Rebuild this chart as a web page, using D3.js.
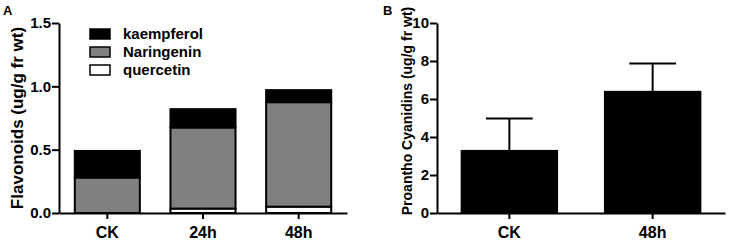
<!DOCTYPE html>
<html>
<head>
<meta charset="utf-8">
<script src="https://d3js.org/d3.v7.min.js"></script>
<style>
  body { margin: 0; background: #fff; }
  svg text { font-family: "Liberation Sans", Arial, sans-serif; font-weight: bold; fill: #000; }
  .axis path, .axis line { stroke: #000; stroke-width: 2; }
</style>
</head>
<body>
<svg id="chart" width="731" height="241"></svg>
<script>
// panel A : stacked flavonoids
let catsA = ["CK", "24h", "48h"];
let quercetin = [0, 0.035, 0.05];
let naringenin = [0.28, 0.64, 0.825];
let kaempferol = [0.21, 0.145, 0.095];
let ticksA = [0, 0.5, 1.0, 1.5];

// panel B : proanthocyanidins, mean + SD
let catsB = ["CK", "48h"];
let proMean = [3.32, 6.43];
let proErr = [1.66, 1.44];
let ticksB = [0, 2, 4, 6, 8, 10];

let legendKeys = ["kaempferol", "Naringenin", "quercetin"];
let colA = { quercetin: "#ffffff", Naringenin: "#808080", kaempferol: "#000000" };

let svg = d3.select("#chart");
let yTop = 23, yBot = 213;

// ---------- A ----------
let gA = svg.append("g");

let xA = d3.scaleBand().domain(catsA).range([59, 347])
    .paddingInner(0.32).paddingOuter(0.165);
let yA = d3.scaleLinear().domain([0, 1.5]).range([yBot, yTop]);

let tableA = catsA.map((c, i) => ({ cat: c, quercetin: quercetin[i],
                                    Naringenin: naringenin[i], kaempferol: kaempferol[i] }));
let stackA = d3.stack().keys(["quercetin", "Naringenin", "kaempferol"])(tableA);

stackA.forEach(layer => {
    gA.append("g").selectAll("rect")
        .data(layer)
        .join("rect")
        .attr("x", d => xA(d.data.cat))
        .attr("y", d => yA(d[1]))
        .attr("width", xA.bandwidth())
        .attr("height", d => yA(d[0]) - yA(d[1]))
        .attr("fill", colA[layer.key])
        .attr("stroke", "#000")
        .attr("stroke-width", d => (d[1] - d[0]) > 0 ? 2 : 0);
});

gA.append("g").attr("class", "axis")
    .attr("transform", "translate(59,0)")
    .call(d3.axisLeft(yA).tickValues(ticksA).tickFormat(d3.format(".1f")).tickSize(7).tickSizeOuter(0))
    .selectAll("text").style("font-size", "15px").attr("x", -8);

gA.append("g").attr("class", "axis")
    .attr("transform", "translate(0," + yBot + ")")
    .call(d3.axisBottom(xA).tickSize(6).tickSizeOuter(0))
    .selectAll("text").style("font-size", "16px").attr("dy", "1.0em");

gA.append("text")
    .attr("transform", "translate(23,118) rotate(-90)")
    .attr("text-anchor", "middle")
    .style("font-size", "17px")
    .text("Flavonoids (ug/g fr wt)");

gA.append("text").attr("x", 3).attr("y", 15).style("font-size", "13px").text("A");

let leg = gA.append("g").selectAll("g")
    .data(legendKeys)
    .join("g")
    .attr("transform", (d, i) => "translate(90," + (29 + i * 18) + ")");
leg.append("rect")
    .attr("width", 20).attr("height", 10)
    .attr("fill", d => colA[d])
    .attr("stroke", "#000").attr("stroke-width", 1.5);
leg.append("text")
    .attr("x", 33).attr("y", 10)
    .style("font-size", "15px")
    .text(d => d);

// ---------- B ----------
let gB = svg.append("g");

let xB = d3.scaleBand().domain(catsB).range([437, 725])
    .paddingInner(0.32).paddingOuter(0.165);
let yB = d3.scaleLinear().domain([0, 10]).range([yBot, yTop]);

// error bars (upper only) drawn behind bars
let errG = gB.append("g").selectAll("g")
    .data(catsB)
    .join("g");
errG.append("line")
    .attr("x1", d => xB(d) + xB.bandwidth() / 2)
    .attr("x2", d => xB(d) + xB.bandwidth() / 2)
    .attr("y1", (d, i) => yB(proMean[i]))
    .attr("y2", (d, i) => yB(proMean[i] + proErr[i]))
    .attr("stroke", "#000").attr("stroke-width", 2);
errG.append("line")
    .attr("x1", d => xB(d) + xB.bandwidth() * 0.26)
    .attr("x2", d => xB(d) + xB.bandwidth() * 0.74)
    .attr("y1", (d, i) => yB(proMean[i] + proErr[i]))
    .attr("y2", (d, i) => yB(proMean[i] + proErr[i]))
    .attr("stroke", "#000").attr("stroke-width", 2);

gB.append("g").selectAll("rect")
    .data(catsB)
    .join("rect")
    .attr("x", d => xB(d))
    .attr("y", (d, i) => yB(proMean[i]))
    .attr("width", xB.bandwidth())
    .attr("height", (d, i) => yB(0) - yB(proMean[i]))
    .attr("fill", "#000");

gB.append("g").attr("class", "axis")
    .attr("transform", "translate(437,0)")
    .call(d3.axisLeft(yB).tickValues(ticksB).tickFormat(d3.format("d")).tickSize(7).tickSizeOuter(0))
    .selectAll("text").style("font-size", "15px").attr("x", -8);

gB.append("g").attr("class", "axis")
    .attr("transform", "translate(0," + yBot + ")")
    .call(d3.axisBottom(xB).tickSize(6).tickSizeOuter(0))
    .selectAll("text").style("font-size", "16px").attr("dy", "1.0em");

gB.append("text")
    .attr("transform", "translate(412,111) rotate(-90)")
    .attr("text-anchor", "middle")
    .style("font-size", "14px")
    .text("Proantho Cyanidins (ug/g fr wt)");

gB.append("text").attr("x", 383).attr("y", 15).style("font-size", "13px").text("B");
</script>
</body>
</html>
